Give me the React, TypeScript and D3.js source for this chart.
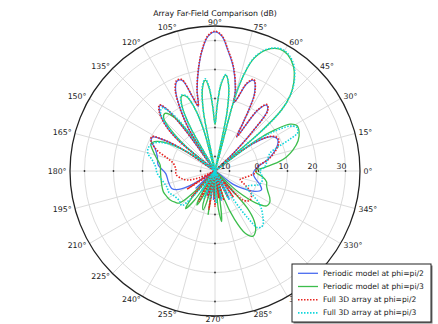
import React from 'react';
import * as d3 from 'd3';

//canvas
const width = 438;
const height = 324;

//polar frame
const centerX = 215;
const centerY = 171;
const outerRadius = 145;
const rMin = -15;
const rMax = 35;

const fontFamily = 'DejaVu Sans, sans-serif';
const fontSize = 7.8;

const title = 'Array Far-Field Comparison (dB)';
const radialTicks = [-10, 0, 10, 20, 30];
const angleTicks = d3.range(0, 360, 15);

// [angle in degrees, gain in dB]
const periodicPhi90 = [
  [0, -1.5], [6, 0], [12, 3.5], [18, 6.5], [23, 8.5], [27, 9.2], [31, 8], [35, 3], [38, -6], [41, -15],
  [44, -6], [46.5, 4], [49, 12.5], [52, 13.8], [55, 10.5], [57.5, -1], [60, 5], [63, 15], [67, 19], [70, 17],
  [73, 11], [74.5, 9.5], [76, 14], [80, 21.4], [84, 27], [87, 31.5], [90, 33], [93, 31.5], [96, 27], [99, 21],
  [102.5, 13.5], [104.5, 8], [107, 12], [110, 18.3], [113, 18.6], [116, 16], [119, 10], [122, 2], [124, -15],
  [126, 2], [128, 12], [130, 14.5], [133, 13], [137, 8.5], [140, 2], [143, -15], [146, -3], [148.5, 5],
  [151.5, 9.5], [155, 9.3], [159, 7.2], [166, 5.5], [174, 4.7], [183, 2], [193, 1.5], [202, 1.1], [207, -1],
  [211, -6], [214, -15], [222, -6], [229, -15], [237, -7], [244, -15], [252, -6], [259, -15], [267, -5],
  [274, -15], [282, -4.5], [289, -15], [297, -4], [304, -15], [311, -4.5], [318, -15], [324, -7], [328, -3.5],
  [333, 0.5], [338, 2.3], [343, 1.2], [350, -1], [356, -1.8],
];

const periodicPhi60 = [
  [0, -1], [4, 2], [8, 7], [11, 10], [15, 12.8], [20, 15.5], [25, 17], [29, 17.3], [32, 15.5], [34.5, 10],
  [36.5, 3], [38.5, -15], [40.5, 5], [42.5, 16], [45, 21.5], [48, 25.5], [53, 30], [58, 32.3], [62, 32.6],
  [67, 30.4], [71, 26], [73.5, 19], [75, 10], [76.5, -15], [78.5, 6], [81, 15], [83.6, 18.3], [86, 15],
  [88, 8], [90, 1], [92, 7], [94, 13.5], [96, 16.5], [98.5, 14], [101, 6], [103, -15], [105.5, 0], [108, 8],
  [111, 12.5], [114, 13.3], [117, 10], [119.5, 2], [121.5, -15], [124, 0], [127, 8], [131, 11.3], [134, 10.5],
  [137, 6], [140, -2], [142, -15], [145, -5], [149, 3], [153, 7.5], [157, 9], [162, 7.5], [168, 5.5],
  [174, 4], [181, 3.8], [188, 3.8], [195, 4], [202, 4.2], [208, 3.8], [213, 3.4], [218, 2.5], [222, 1.5],
  [225, -4], [227, -15], [229, -3], [232, 1.5], [235, -3], [237, -15], [240, -4], [242, -1.7], [245, -6],
  [247, -15], [250, -3], [253, -1], [256, -6], [258, -15], [261, 0.3], [264, -15], [268, -6], [272, -15],
  [275, -2], [277.5, 2.6], [280, -6], [283, -15], [288, -5], [292, 3], [296, 9], [300, 11], [304, 10],
  [308, 7], [311, 2], [314, -15], [318, -4], [322, 3], [326, 6.5], [330, 6.8], [334, 6], [339, 4.5],
  [344, 3.5], [348, 3.2], [353, 1.5], [357, -0.5],
];

const full3dPhi90 = [
  [0, -0.8], [6, -0.3], [12, 3.7], [18, 6.8], [23, 8.8], [27, 9.5], [31, 8.3], [35, 3.2], [38, -6], [41, -15],
  [44, -6], [46.5, 4], [49, 12.8], [52, 14.1], [55, 10.8], [57.5, -1], [60, 5], [63, 15.3], [67, 19.3],
  [70, 17.3], [73, 11.2], [74.5, 9.6], [76, 14.2], [80, 21.6], [84, 27.2], [87, 31.7], [90, 33.2], [93, 31.7],
  [96, 27.2], [99, 21.2], [102.5, 13.7], [104.5, 8.2], [107, 12.2], [110, 18.6], [113, 18.9], [116, 16.3],
  [119, 10.2], [122, 2], [124, -15], [126, 2], [128, 12.3], [130, 14.8], [133, 13.3], [137, 8.7], [140, 2],
  [143, -15], [146, -3], [148.5, 5.3], [151.5, 9.8], [155, 9.3], [160, 6.5], [165, 2], [170, -0.5],
  [178, -1.5], [185, -1.5], [192, -3], [198, -5], [203, -9], [206, -15], [213, -3.5], [220, -15],
  [228, -2.8], [235, -15], [242, -3], [248, -15], [254, -5.5], [257.5, -15], [261, -1.5], [265, -15],
  [270, -2.7], [274, -15], [278, -5.5], [282, -15], [287, -4.5], [291, -15], [296, -5], [300, -15],
  [305, -4], [309, -10], [314, -1], [320, 0.7], [326, 0.2], [331, -1.5], [336, -4], [341, -5.8], [346, -5],
  [352, -3], [357, -1.2],
];

const full3dPhi60 = [
  [0, 0.5], [5, 2.3], [12, 3.5], [18, 5], [21, 8.4], [23, 13], [25, 16.5], [28, 17], [31, 15], [34, 9],
  [36.5, 2], [38.5, -15], [40.5, 5], [42.5, 16], [45, 21.5], [48, 25.7], [53, 30.3], [58, 32.6], [62, 32.8],
  [67, 30.6], [71, 26.2], [73.5, 19], [75, 10], [76.5, -15], [78.5, 6], [81, 15], [83.6, 18.5], [86, 15.3],
  [88, 8], [90, 1.5], [92, 7.5], [94, 14], [96, 17], [98.5, 14.5], [101, 6], [103, -15], [105.5, 0], [108, 8],
  [111, 12.8], [114, 13.6], [117, 10.5], [119.5, 2], [121.5, -15], [124, 1], [127, 10], [130, 13.4],
  [133, 12.5], [137, 7], [140, -2], [142, -15], [145, -4], [150, 4], [155, 8], [160, 9.3], [165, 9],
  [170, 7], [176, 5.5], [182, 5], [190, 3.5], [198, 2.5], [205, 2.5], [212, 1.4], [220, 1], [226, 1.5],
  [229, -3], [231, -15], [236, -6], [241, -15], [248, -4.5], [253, -15], [260, -5], [266, -15], [272, -4],
  [278, -15], [284, -5], [290, -15], [296, -4], [300, -15], [303, -3], [305, 5], [307, 9.5], [311, 10],
  [317, 7.5], [323, 4.4], [328, 0], [332, -3], [336, -2.5], [342, 0.5], [346, 1.5], [352, 1.5], [356, 1],
];

const seriesNames = [
  'Periodic model at phi=pi/2',
  'Periodic model at phi=pi/3',
  'Full 3D array at phi=pi/2',
  'Full 3D array at phi=pi/3',
];
const seriesData = [periodicPhi90, periodicPhi60, full3dPhi90, full3dPhi60];
const seriesColors = ['#4a6cf0', '#3cbd4c', '#e8231f', '#12d6dc'];
const seriesDash = [null, null, '1.5,1.5', '1.5,1.5'];
const seriesWidth = [1.3, 1.3, 1.6, 1.6];

//scales
const r = d3.scaleLinear().domain([rMin, rMax]).range([0, outerRadius]).clamp(true);
const toRad = (deg: number) => (deg * Math.PI) / 180;

const radial = d3
  .lineRadial<number[]>()
  .angle((d) => Math.PI / 2 - toRad(d[0]))
  .radius((d) => r(d[1]))
  .curve(d3.curveCatmullRomClosed.alpha(0.5));

// angle labels: anchored just outside the circle, aligned away from it
const labelRadius = outerRadius + 3.5;
const labelAnchor = (deg: number) => {
  const c = Math.cos(toRad(deg));
  if (c > 0.01) return 'start';
  if (c < -0.01) return 'end';
  return 'middle';
};

const App = () => (
  <svg width={width} height={height} style={{ position: 'absolute', left: 0, top: 0 }} fontFamily={fontFamily}>
    <rect width={width} height={height} fill="white" />
    <text x={centerX} y={15.5} textAnchor="middle" fontSize={fontSize} fill="#111">
      {title}
    </text>
    <g transform={`translate(${centerX},${centerY})`}>
      {radialTicks.map((t) => (
        <circle key={t} r={r(t)} fill="none" stroke="#dcdcdc" strokeWidth={1} />
      ))}
      {angleTicks.map((deg) => (
        <line
          key={deg}
          x1={0}
          y1={0}
          x2={outerRadius * Math.cos(toRad(deg))}
          y2={-outerRadius * Math.sin(toRad(deg))}
          stroke="#dcdcdc"
          strokeWidth={1}
        />
      ))}
      {[0, 90, 180, 270].map((deg) =>
        radialTicks.map((t) => (
          <circle
            key={`${deg}-${t}`}
            cx={r(t) * Math.cos(toRad(deg))}
            cy={-r(t) * Math.sin(toRad(deg))}
            r={0.9}
            fill="#333"
          />
        ))
      )}
      {seriesData.map((d, i) => (
        <path
          key={i}
          d={radial(d) || ''}
          fill="none"
          stroke={seriesColors[i]}
          strokeWidth={seriesWidth[i]}
          strokeDasharray={seriesDash[i] || undefined}
        />
      ))}
      <circle r={outerRadius} fill="none" stroke="#222" strokeWidth={1.3} />
      {radialTicks.map((t) => (
        <text key={t} x={r(t) + 1} y={-2} textAnchor="end" fontSize={fontSize} fill="#222">
          {t}
        </text>
      ))}
      {angleTicks.map((deg) => (
        <text
          key={deg}
          x={labelRadius * Math.cos(toRad(deg))}
          y={-labelRadius * Math.sin(toRad(deg))}
          textAnchor={labelAnchor(deg)}
          dominantBaseline="central"
          fontSize={fontSize}
          fill="#222"
        >
          {`${deg}°`}
        </text>
      ))}
    </g>
    //legend
    <g transform="translate(292,264)">
      <rect x={1.5} y={1.5} width={139} height={58} fill="#777" />
      <rect x={0} y={0} width={139} height={58} fill="white" stroke="#222" strokeWidth={1} />
      {seriesNames.map((name, i) => (
        <g key={name} transform={`translate(0,${9.3 + i * 13.2})`}>
          <line
            x1={6}
            x2={26}
            y1={0}
            y2={0}
            stroke={seriesColors[i]}
            strokeWidth={seriesWidth[i]}
            strokeDasharray={seriesDash[i] || undefined}
          />
          <text x={31} y={0} dominantBaseline="central" fontSize={7.6} fill="#222">
            {name}
          </text>
        </g>
      ))}
    </g>
  </svg>
);

export default App;
